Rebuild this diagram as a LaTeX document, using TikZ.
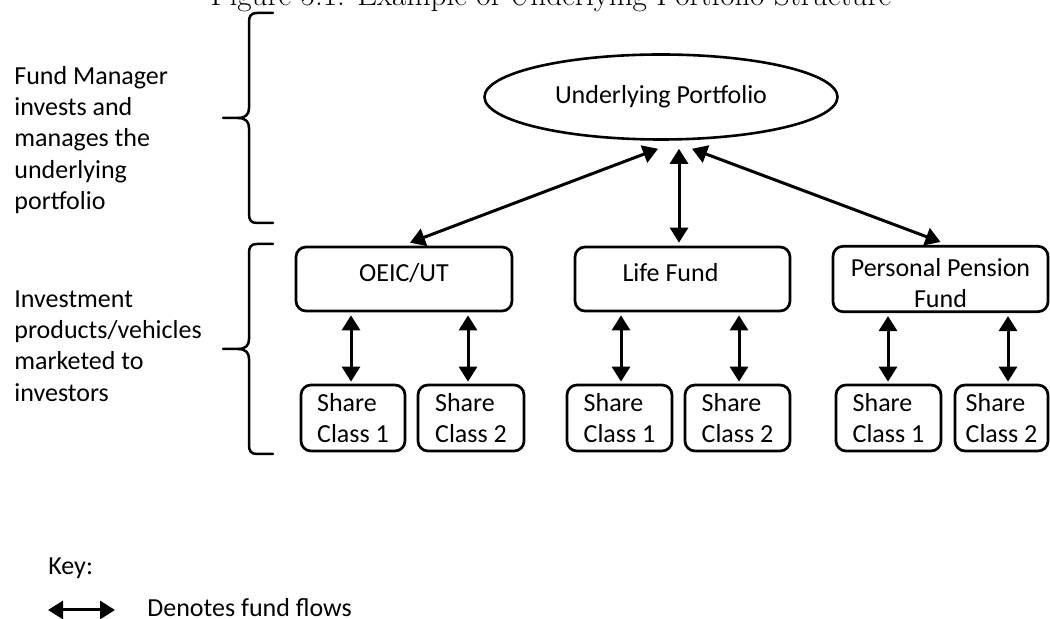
\documentclass[tikz,border=0pt]{standalone}
\usepackage{fontspec}
\newfontfamily\calfont{Carlito}
\usetikzlibrary{arrows.meta,shapes.geometric,calc}
\begin{document}
\begin{tikzpicture}[x=0.5pt,y=-0.5pt,
  txt/.style={font=\calfont\fontsize{13}{15.6}\selectfont},
  box/.style={txt, draw, line width=1.35pt, rounded corners=5pt, minimum height=32pt, align=center, inner sep=2pt},
  onebox/.style={box, text height=9pt, text depth=6pt},
  sharebox/.style={box, align=left, minimum height=33pt},
  flow/.style={line width=1.5pt, {Triangle[length=7.5pt,width=9pt]}-{Triangle[length=7.5pt,width=9pt]}},
  bracel/.style={line width=1.25pt, line cap=round, line join=round},
]
\useasboundingbox (0,0) rectangle (1050,619);

\node[font=\fontsize{15.6}{18}\selectfont, anchor=base] (title) at (551,6) {Figure 5.1: Example of Underlying Portfolio Structure};

% braces
\draw[bracel] (273,13) -- (257,13) .. controls (251,13) and (249,16) .. (249,22) -- (249,108)
  .. controls (249,114) and (246,118) .. (238,118) -- (223,118);
\draw[bracel] (238,118) .. controls (246,118) and (249,122) .. (249,128) -- (249,214)
  .. controls (249,220) and (251,223) .. (257,223) -- (273,223);
\draw[bracel] (273,244) -- (257,244) .. controls (251,244) and (249,247) .. (249,253) -- (249,339)
  .. controls (249,345) and (246,349) .. (238,349) -- (223,349);
\draw[bracel] (238,349) .. controls (246,349) and (249,353) .. (249,359) -- (249,445)
  .. controls (249,451) and (251,454) .. (257,454) -- (273,454);

% left texts
\node[txt, align=left, anchor=west, inner sep=0pt] (fm) at (14,140) {Fund Manager\\invests and\\manages the\\underlying\\portfolio};
\node[txt, align=left, anchor=west, inner sep=0pt] (ip) at (14,346) {Investment\\products/vehicles\\marketed to\\investors};

% ellipse
\node[ellipse, draw, line width=1.3pt, minimum width=176.5pt, minimum height=42.5pt, inner sep=0pt, txt] (up) at (661,97) {Underlying Portfolio};

% product boxes
\node[onebox, minimum width=108pt] (oeic) at (404,279) {OEIC/UT};
\node[onebox, minimum width=107.5pt] (life) at (682.5,279) {\hbox{Life Fund\kern12pt}};
\node[box, minimum width=107.5pt] (ppf) at (940.5,279) {\rule{0pt}{13pt}Personal Pension\\Fund};

% share boxes
\node[sharebox, minimum width=52pt] (s1) at (353,418) {Share\\Class 1};
\node[sharebox, minimum width=53pt] (s2) at (471,418) {Share\\Class 2};
\node[sharebox, minimum width=52.5pt] (s3) at (619.5,418) {Share\\Class 1};
\node[sharebox, minimum width=52.5pt] (s4) at (737.5,418) {Share\\Class 2};
\node[sharebox, minimum width=52.5pt] (s5) at (888.5,418) {Share\\Class 1};
\node[sharebox, minimum width=46.5pt] (s6) at (1001.5,418) {Share\\Class 2};

% arrows from portfolio
\draw[flow] ($(up.south)+(-3,8)$) -- ($(oeic.north)+(6,-3)$);
\draw[flow] ($(up.south)+(18,8)$) -- ($(life.north)+(-3.5,-3)$);
\draw[flow] ($(up.south)+(31,8)$) -- ($(ppf.north)+(0,-3)$);

% arrows to share classes
\draw[flow] ($(s1.north |- oeic.south)+(-2,3)$) -- ($(s1.north)+(-2,-2)$);
\draw[flow] ($(s2.north |- oeic.south)+(-3,3)$) -- ($(s2.north)+(-3,-2)$);
\draw[flow] ($(s3.north |- life.south)+(1.5,3)$) -- ($(s3.north)+(1.5,-2)$);
\draw[flow] ($(s4.north |- life.south)+(1.5,3)$) -- ($(s4.north)+(1.5,-2)$);
\draw[flow] ($(s5.north |- ppf.south)+(-0.5,3)$) -- ($(s5.north)+(-0.5,-2)$);
\draw[flow] ($(s6.north |- ppf.south)+(6.5,3)$) -- ($(s6.north)+(6.5,-2)$);

% key
\node[txt, anchor=base west, inner sep=0pt] (key) at (48,575) {Key:};
\coordinate (ka) at (48,610);
\coordinate (kb) at (115,610);
\draw[flow] (ka) -- (kb);
\node[txt, anchor=base west, inner sep=0pt] (kt) at (147,617) {Denotes fund flows};
\end{tikzpicture}
\end{document}
